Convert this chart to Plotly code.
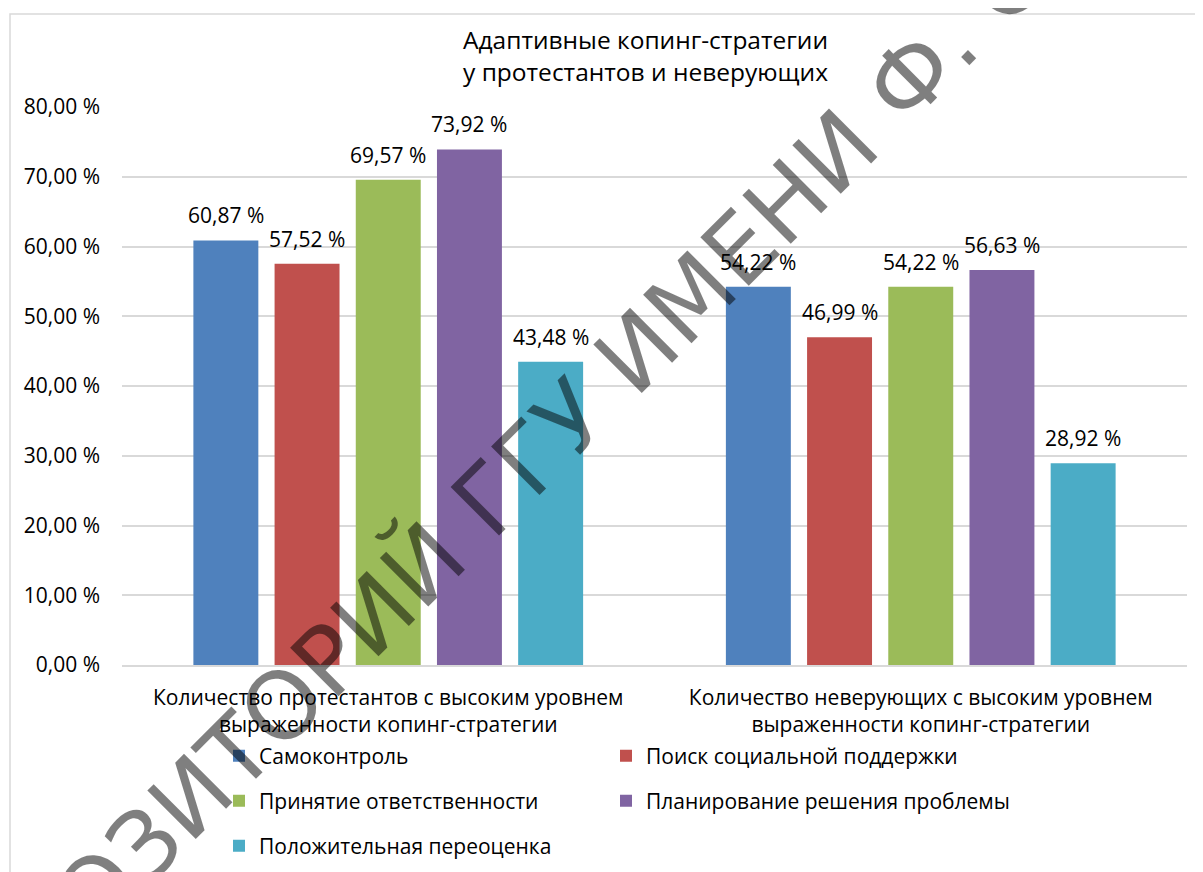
import plotly.graph_objects as go

categories = [
    "Количество протестантов с высоким уровнем<br>выраженности копинг-стратегии",
    "Количество неверующих с высоким уровнем<br>выраженности копинг-стратегии",
]
series_names = [
    "Самоконтроль",
    "Поиск социальной поддержки",
    "Принятие ответственности",
    "Планирование решения проблемы",
    "Положительная переоценка",
]
series_values = [
    [60.87, 54.22],
    [57.52, 46.99],
    [69.57, 54.22],
    [73.92, 56.63],
    [43.48, 28.92],
]
colors = ["#4F81BD", "#C0504D", "#9BBB59", "#8064A2", "#4BACC6"]
legend_ids = ["legend", "legend2", "legend3", "legend4", "legend5"]
y_ticks = [0, 10, 20, 30, 40, 50, 60, 70, 80]
y_ticktext = [f"{v:.2f}".replace(".", ",") + " %" for v in y_ticks]
title_text = "Адаптивные копинг-стратегии<br>у протестантов и неверующих"
watermark = "ОЗИТОРИЙ ГГУ ИМЕНИ Ф. С"

# page is shown with the browser's default 8px body margin
OFF = 8
PAGE_W, PAGE_H = 1203, 872
W, H = PAGE_W - OFF, PAGE_H - OFF
# plot area in page pixels
PL, PR, PT, PB = 122, 1187, 107, 665
ML, MR, MT, MB = PL - OFF, PAGE_W - PR, PT - OFF, PAGE_H - PB
PW = W - ML - MR
PH = H - MT - MB
BARGAP = 0.2376
BARGROUPGAP = 0.2
FONT = "Open Sans"
FS = 21
TXT = "#000000"


def px_x(p):  # page pixel -> paper x
    return (p - PL) / PW


def px_y(p):  # page pixel -> paper y
    return (PB - p) / PH


fig = go.Figure()
for name, vals, col, lg in zip(series_names, series_values, colors, legend_ids):
    fig.add_trace(go.Bar(
        x=categories, y=vals, name=name, marker_color=col,
        marker_line_width=0, legend=lg, hoverinfo="y+name",
    ))

# data labels above bars
slot = PW / len(categories) * (1 - BARGAP) / len(series_names)
n = len(series_names)
for i, vals in enumerate(series_values):
    for cat, v in zip(categories, vals):
        fig.add_annotation(
            x=cat, y=v, xref="x", yref="y",
            text=f"{v:.2f}".replace(".", ",") + " %",
            showarrow=False, xshift=(i - (n - 1) / 2) * slot,
            yanchor="middle", yshift=25,
            font=dict(family=FONT, size=FS, color=TXT),
        )

# watermark
fig.add_annotation(
    x=px_x(549), y=px_y(439), xref="paper", yref="paper",
    text=watermark, showarrow=False, textangle=-45,
    xanchor="center", yanchor="middle",
    font=dict(family="DejaVu Sans", size=94, color="rgba(0,0,0,0.5)"),
)

# chart border
fig.add_shape(type="rect", xref="paper", yref="paper",
              x0=px_x(10), x1=px_x(1230), y0=px_y(14), y1=px_y(900),
              line=dict(color="#D9D9D9", width=1.5), layer="below")

legend_common = dict(orientation="h", xanchor="left", yanchor="middle",
                     font=dict(family=FONT, size=FS, color=TXT),
                     bgcolor="rgba(0,0,0,0)")
col_x = [219, 606]
row_y = [756, 801, 846]

fig.update_layout(
    width=W, height=H,
    margin=dict(l=ML, r=MR, t=MT, b=MB, autoexpand=False),
    paper_bgcolor="white", plot_bgcolor="white",
    barmode="group", bargap=BARGAP, bargroupgap=BARGROUPGAP,
    separators=", ",
    font=dict(family=FONT, size=FS, color=TXT),
    title=dict(text=title_text, x=(645.5 - OFF) / W, xanchor="center",
               y=1 - 41 / H, yanchor="top",
               font=dict(family=FONT, size=24.5, color=TXT)),
    showlegend=True,
    legend=dict(x=px_x(col_x[0]), y=px_y(row_y[0]), **legend_common),
    legend2=dict(x=px_x(col_x[1]), y=px_y(row_y[0]), **legend_common),
    legend3=dict(x=px_x(col_x[0]), y=px_y(row_y[1]), **legend_common),
    legend4=dict(x=px_x(col_x[1]), y=px_y(row_y[1]), **legend_common),
    legend5=dict(x=px_x(col_x[0]), y=px_y(row_y[2]), **legend_common),
)
fig.update_xaxes(showgrid=False, showline=True, linecolor="#D9D9D9", linewidth=1.5,
                 ticks="", ticklabelstandoff=13,
                 tickfont=dict(family=FONT, size=FS, color=TXT))
fig.update_yaxes(range=[0, 80], tickvals=y_ticks, ticktext=y_ticktext,
                 showgrid=True, gridcolor="#D9D9D9", gridwidth=1.5,
                 zeroline=False, showline=False, ticks="", ticklabelstandoff=21,
                 tickfont=dict(family=FONT, size=FS, color=TXT))

fig.write_html("out.html")
